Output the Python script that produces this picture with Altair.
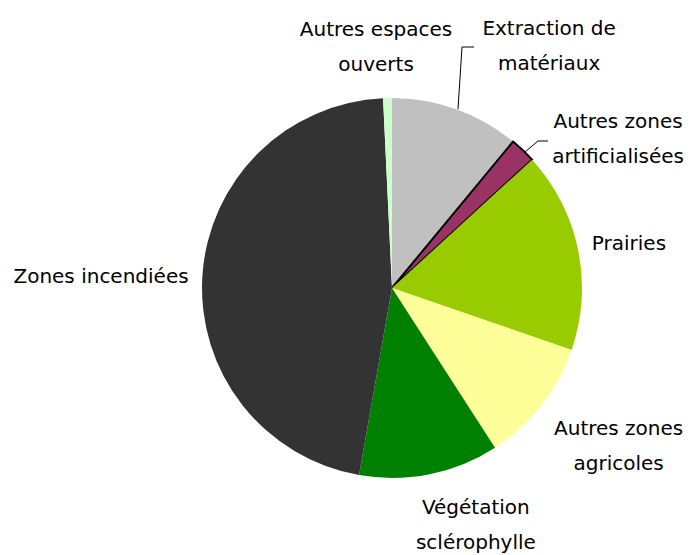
import altair as alt
import pandas as pd

categories = ["Extraction de matériaux", "Autres zones artificialisées", "Prairies",
              "Autres zones agricoles", "Végétation sclérophylle", "Zones incendiées",
              "Autres espaces ouverts"]
values = [11.0, 2.2, 17.1, 10.6, 11.9, 46.5, 0.75]
colors = ["#C0C0C0", "#993366", "#99CC00", "#FFFF99", "#008000", "#333333", "#CCFFCC"]
labels = ["Extraction de\nmatériaux", "Autres zones\nartificialisées", "Prairies",
          "Autres zones\nagricoles", "Végétation\nsclérophylle", "Zones incendiées",
          "Autres espaces\nouverts"]

# label placement (polar: radians / pixels, first-line baseline) - styling only
label_theta = [0.5554, 0.9547, 1.4118, 2.1454, 2.7862, 4.7295, 6.2200]
label_radius = [298, 277, 240, 270, 241, 291, 253]

CX, CY, R = 384, 280, 190

df = pd.DataFrame({"cat": categories, "value": values, "order": list(range(len(categories)))})
lab = pd.DataFrame({"label": labels, "t": label_theta, "r": label_radius})

# leader lines (pixel space) - styling only
leaders = pd.DataFrame({
    "x": [450, 454, 466, 517, 530, 540],
    "y": [101, 39, 39, 144, 133, 133],
    "g": ["a", "a", "a", "b", "b", "b"],
    "o": [0, 1, 2, 0, 1, 2],
})

pie = alt.Chart(df).mark_arc(outerRadius=R, strokeJoin="miter").encode(
    theta=alt.Theta("value:Q", stack=True),
    order=alt.Order("order:Q"),
    color=alt.Color("cat:N", scale=alt.Scale(domain=categories, range=colors), legend=None),
    stroke=alt.value("black"),
    strokeWidth=alt.condition(alt.datum.cat == "Autres zones artificialisées", alt.value(2), alt.value(0)),
    x=alt.value(CX), y=alt.value(CY),
)

text = alt.Chart(lab).mark_text(
    font="DejaVu Sans", fontSize=20, lineBreak="\n", lineHeight=35,
    align="center", baseline="alphabetic", color="black"
).encode(
    theta=alt.Theta("t:Q", scale=None),
    radius=alt.Radius("r:Q", scale=None),
    text="label:N",
    x=alt.value(CX), y=alt.value(CY),
)

lines = alt.Chart(leaders).mark_line(color="black", strokeWidth=1).encode(
    x=alt.X("x:Q", scale=None, axis=None),
    y=alt.Y("y:Q", scale=None, axis=None),
    detail="g:N",
    order="o:Q",
)

chart = alt.layer(pie, lines, text).resolve_scale(theta="independent").properties(
    width=681, height=547, padding=0, autosize=alt.AutoSizeParams(type="none")
).configure_view(stroke=None)

chart.save("out.html", embed_options={"renderer": "svg", "actions": False})
